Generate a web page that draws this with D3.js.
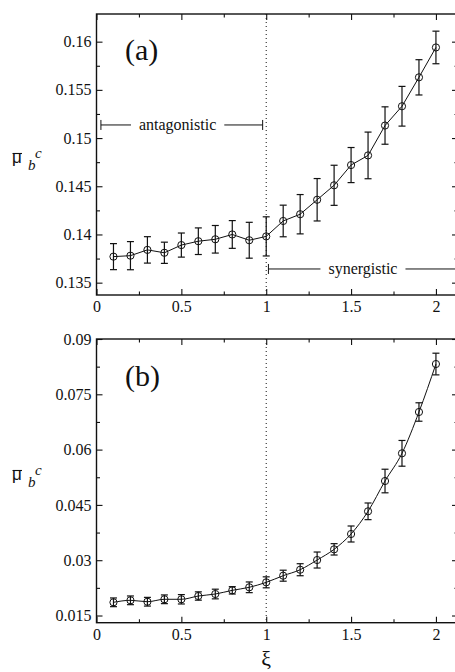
<!DOCTYPE html>
<html>
<head>
<meta charset="utf-8">
<script src="https://cdn.jsdelivr.net/npm/d3@7"></script>
<style>
  body { margin: 0; background: #fff; }
  svg { display: block; }
  text { font-family: "Liberation Serif", "Times New Roman", serif; fill: #111; }
</style>
</head>
<body>
<svg id="chart"></svg>
<script>
// xi values (shared by both panels)
const xi = [0.1, 0.2, 0.3, 0.4, 0.5, 0.6, 0.7, 0.8, 0.9, 1.0,
            1.1, 1.2, 1.3, 1.4, 1.5, 1.6, 1.7, 1.8, 1.9, 2.0];

// panel (a)
const muA = [0.1377, 0.1378, 0.1384, 0.1381, 0.1389, 0.1393, 0.1395, 0.1400, 0.1394, 0.1398,
             0.1414, 0.1421, 0.1436, 0.1451, 0.1472, 0.1482, 0.1513, 0.1533, 0.1563, 0.1594];
const errA = [0.00135, 0.00146, 0.00137, 0.0011, 0.00125, 0.00138, 0.00143, 0.00144, 0.00186, 0.00203,
              0.00164, 0.00204, 0.0022, 0.00208, 0.00182, 0.00242, 0.00194, 0.00206, 0.00183, 0.00169];

// panel (b)
const muB = [0.01858, 0.01912, 0.01874, 0.0194, 0.0194, 0.02029, 0.02083, 0.02183, 0.02265, 0.0240,
             0.0258, 0.02742, 0.03005, 0.03295, 0.03711, 0.04326, 0.05148, 0.05899, 0.0702, 0.08321];
const errB = [0.00118, 0.00118, 0.00118, 0.00118, 0.00127, 0.00113, 0.00131, 0.001, 0.00145, 0.00149,
              0.00149, 0.00163, 0.00217, 0.00154, 0.00217, 0.00226, 0.0032, 0.00349, 0.0025, 0.00294];

// ticks
const xTicks = [0, 0.5, 1, 1.5, 2];
const xMinor = [0.25, 0.75, 1.25, 1.75];
const yTicksA = [0.135, 0.14, 0.145, 0.15, 0.155, 0.16];
const yMinorA = [0.1375, 0.1425, 0.1475, 0.1525, 0.1575];
const yTicksB = [0.015, 0.03, 0.045, 0.06, 0.075, 0.09];
const yMinorB = [0.0225, 0.0375, 0.0525, 0.0675, 0.0825];

const width = 455, height = 672;
const ink = "#111";

const svg = d3.select("#chart")
  .attr("width", width)
  .attr("height", height);

const x = d3.scaleLinear().domain([0, 2.13]).range([96.5, 458]);

function panel(opts) {
  const { y, mu, err, yTicks, yMinor, tag, tagY, labelY, curve } = opts;
  const [bottom, top] = y.range();
  const g = svg.append("g");

  // minor ticks (left/right/top/bottom, pointing inward)
  g.append("g").attr("transform", `translate(${x.range()[0]},0)`)
    .call(d3.axisLeft(y).tickValues(yMinor).tickSize(-3.5).tickSizeOuter(0).tickFormat(""));
  g.append("g").attr("transform", `translate(${x.range()[1]},0)`)
    .call(d3.axisRight(y).tickValues(yMinor).tickSize(-3.5).tickSizeOuter(0).tickFormat(""));
  g.append("g").attr("transform", `translate(0,${bottom})`)
    .call(d3.axisBottom(x).tickValues(xMinor).tickSize(-3.5).tickSizeOuter(0).tickFormat(""));
  g.append("g").attr("transform", `translate(0,${top})`)
    .call(d3.axisTop(x).tickValues(xMinor).tickSize(-3.5).tickSizeOuter(0).tickFormat(""));

  // major ticks
  g.append("g").attr("class", "yaxis").attr("transform", `translate(${x.range()[0]},0)`)
    .call(d3.axisLeft(y).tickValues(yTicks).tickSize(-6).tickSizeOuter(0).tickPadding(5)
      .tickFormat(d3.format("~g")));
  g.append("g").attr("transform", `translate(${x.range()[1]},0)`)
    .call(d3.axisRight(y).tickValues(yTicks).tickSize(-6).tickSizeOuter(0).tickFormat(""));
  g.append("g").attr("class", "xaxis").attr("transform", `translate(0,${bottom})`)
    .call(d3.axisBottom(x).tickValues(xTicks).tickSize(-6).tickSizeOuter(0).tickPadding(6)
      .tickFormat(d3.format("~g")));
  g.append("g").attr("transform", `translate(0,${top})`)
    .call(d3.axisTop(x).tickValues(xTicks).tickSize(-6).tickSizeOuter(0).tickFormat(""));

  g.selectAll(".domain").remove();
  g.selectAll(".tick line").attr("stroke", ink).attr("stroke-width", 1.1);
  g.selectAll(".tick text")
    .style("font-family", '"Liberation Serif", serif')
    .style("font-size", "16px")
    .attr("fill", ink);
  g.selectAll(".xaxis .tick text").attr("dy", "0.71em");

  // frame
  g.append("rect")
    .attr("x", x.range()[0]).attr("y", top)
    .attr("width", x.range()[1] - x.range()[0]).attr("height", bottom - top)
    .attr("fill", "none").attr("stroke", ink).attr("stroke-width", 1.4);

  // dotted line at xi = 1
  g.append("line")
    .attr("x1", x(1)).attr("x2", x(1))
    .attr("y1", top).attr("y2", bottom)
    .attr("stroke", ink).attr("stroke-width", 1)
    .attr("stroke-dasharray", "1,3");

  const pts = xi.map((v, i) => ({ x: v, y: mu[i], e: err[i] }));

  // connecting line
  g.append("path")
    .datum(pts)
    .attr("fill", "none").attr("stroke", ink).attr("stroke-width", 1)
    .attr("d", d3.line().x(d => x(d.x)).y(d => y(d.y)).curve(curve));

  // error bars
  const eb = g.append("g").attr("stroke", ink).attr("stroke-width", 1.2);
  eb.selectAll("line.v").data(pts).join("line").attr("class", "v")
    .attr("x1", d => x(d.x)).attr("x2", d => x(d.x))
    .attr("y1", d => y(d.y - d.e)).attr("y2", d => y(d.y + d.e));
  eb.selectAll("line.t").data(pts).join("line").attr("class", "t")
    .attr("x1", d => x(d.x) - 3.5).attr("x2", d => x(d.x) + 3.5)
    .attr("y1", d => y(d.y + d.e)).attr("y2", d => y(d.y + d.e));
  eb.selectAll("line.b").data(pts).join("line").attr("class", "b")
    .attr("x1", d => x(d.x) - 3.5).attr("x2", d => x(d.x) + 3.5)
    .attr("y1", d => y(d.y - d.e)).attr("y2", d => y(d.y - d.e));

  // open circles
  g.append("g").selectAll("circle").data(pts).join("circle")
    .attr("cx", d => x(d.x)).attr("cy", d => y(d.y))
    .attr("r", 3.6)
    .attr("fill", "none").attr("stroke", ink).attr("stroke-width", 1);

  // panel tag
  g.append("text")
    .attr("x", 125).attr("y", tagY)
    .style("font-size", "30px")
    .text(tag);

  // y label: mu-bar sub b sup c
  const lab = g.append("g").attr("transform", `translate(12,${labelY})`);
  lab.append("text")
    .style("font-family", '"Liberation Sans", Arial, sans-serif')
    .style("font-size", "17px")
    .text("μ");
  lab.append("line")
    .attr("x1", 0.5).attr("x2", 10).attr("y1", -9.5).attr("y2", -9.5)
    .attr("stroke", ink).attr("stroke-width", 1.1);
  lab.append("text")
    .attr("x", 16).attr("y", 7)
    .style("font-size", "15px").style("font-style", "italic")
    .text("b");
  lab.append("text")
    .attr("x", 23).attr("y", -5)
    .style("font-size", "15px").style("font-style", "italic")
    .text("c");

  return g;
}

const yA = d3.scaleLinear().domain([0.13372, 0.16287]).range([295, 14]);
const yB = d3.scaleLinear().domain([0.01305, 0.09]).range([622.7, 339]);

const gA = panel({ y: yA, mu: muA, err: errA, yTicks: yTicksA, yMinor: yMinorA,
  tag: "(a)", tagY: 60, labelY: 163, curve: d3.curveLinear });
panel({ y: yB, mu: muB, err: errB, yTicks: yTicksB, yMinor: yMinorB,
  tag: "(b)", tagY: 386, labelY: 480, curve: d3.curveMonotoneX });

// regime annotations in panel (a)
function bracket(g, x0, x1, yv, label, xc, withEndBar) {
  const yy = yA(yv);
  const t = g.append("text")
    .attr("x", x(xc)).attr("y", yy + 5)
    .attr("text-anchor", "middle")
    .style("font-size", "16px")
    .text(label);
  const w = t.node().getComputedTextLength();
  const gap = 8;
  const s = g.append("g").attr("stroke", ink).attr("stroke-width", 1);
  s.append("line").attr("x1", x(x0)).attr("x2", x(xc) - w / 2 - gap).attr("y1", yy).attr("y2", yy);
  s.append("line").attr("x1", x(xc) + w / 2 + gap).attr("x2", x(x1)).attr("y1", yy).attr("y2", yy);
  s.append("line").attr("x1", x(x0)).attr("x2", x(x0)).attr("y1", yy - 5).attr("y2", yy + 5);
  if (withEndBar)
    s.append("line").attr("x1", x(x1)).attr("x2", x(x1)).attr("y1", yy - 5).attr("y2", yy + 5);
}
bracket(gA, 0.026, 0.979, 0.15136, "antagonistic", 0.478, true);
bracket(gA, 1.013, 2.2, 0.13642, "synergistic", 1.57, false);

// x label
svg.append("text")
  .attr("x", x(1)).attr("y", 666)
  .attr("text-anchor", "middle")
  .style("font-size", "22px")
  .text("ξ");
</script>
</body>
</html>
